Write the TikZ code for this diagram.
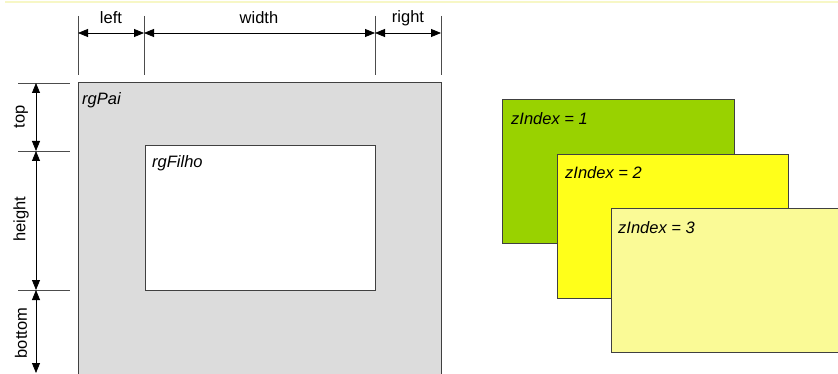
\documentclass[tikz,border=0pt]{standalone}
\usepackage{fontspec}
\setmainfont{Liberation Sans}
\usetikzlibrary{arrows.meta,positioning}

\definecolor{paigray}{HTML}{DCDCDC}
\definecolor{zgreen}{HTML}{99D200}
\definecolor{zyellow}{HTML}{FFFF1A}
\definecolor{zpale}{HTML}{FAFA96}
\definecolor{rulecol}{HTML}{F7F7C6}

\begin{document}
\begin{tikzpicture}[x=1pt,y=-1pt,font=\fontsize{16.5}{19}\selectfont]
    \tikzset{box/.style={draw=black!75,line width=1pt,anchor=north west,inner sep=0pt,outer sep=0pt}};
    \tikzset{lbl/.style={anchor=west,inner sep=0pt,font=\fontsize{16.5}{19}\selectfont\itshape}};
    \tikzset{dim/.style={{Triangle[length=10pt,width=8pt]}-{Triangle[length=10pt,width=8pt]},line width=0.8pt}};
    \tikzset{tick/.style={draw=black!70,line width=0.7pt}};
    \clip (0,0) rectangle (838,374);
    \draw[rulecol,line width=2pt] (5,2) -- (838,2);

    % parent and child regions
    \node[box,fill=paigray,minimum width=363pt,minimum height=310pt] (rgPai) at (78,83) {};
    \node[box,fill=white,minimum width=230pt,minimum height=144pt] (rgFilho) at (145,146) {};
    \node[lbl] (tPai) at ([shift={(4,17)}]rgPai.north west) {rgPai};
    \node[lbl] (tFilho) at ([shift={(7,17)}]rgFilho.north west) {rgFilho};

    % stacked layers
    \node[box,fill=zgreen,minimum width=232pt,minimum height=144pt] (z1) at (502,100) {};
    \node[lbl] (tz1) at ([shift={(9,19)}]z1.north west) {zIndex = 1};
    \node[box,fill=zyellow,minimum width=231pt,minimum height=143pt] (z2) at (557,155) {};
    \node[lbl] (tz2) at ([shift={(8,18)}]z2.north west) {zIndex = 2};
    \node[box,fill=zpale,minimum width=228pt,minimum height=143pt] (z3) at (611,209) {};
    \node[lbl] (tz3) at ([shift={(7,19)}]z3.north west) {zIndex = 3};

    % horizontal measures
    \foreach \x in {78,144,375,441}
      \draw[tick] (\x,16) -- (\x,75);
    \coordinate (h1) at (78,33);
    \coordinate (h2) at (144,33);
    \coordinate (h3) at (375,33);
    \coordinate (h4) at (441,33);
    \node (lLeft) at (111,18) {left};
    \node (lWidth) at (259,18) {width};
    \node (lRight) at (408,18) {right};

    % vertical measures
    \foreach \y in {83,151,290}
      \draw[tick] (18,\y) -- (70,\y);
    \coordinate (v1) at (36,83);
    \coordinate (v2) at (36,151);
    \coordinate (v3) at (36,290);
    \coordinate (v4) at (36,373);
    \node[rotate=90] (lTop) at (21,117) {top};
    \node[rotate=90] (lHeight) at (21,219) {height};
    \node[rotate=90] (lBottom) at (21,333) {bottom};

    {
      \path[dim]
        (h1) edge (h2)
        (h2) edge (h3)
        (h3) edge (h4)
        (v1) edge (v2)
        (v2) edge (v3)
        (v3) edge (v4)
        ;
      }

    \end{tikzpicture}
\end{document}
